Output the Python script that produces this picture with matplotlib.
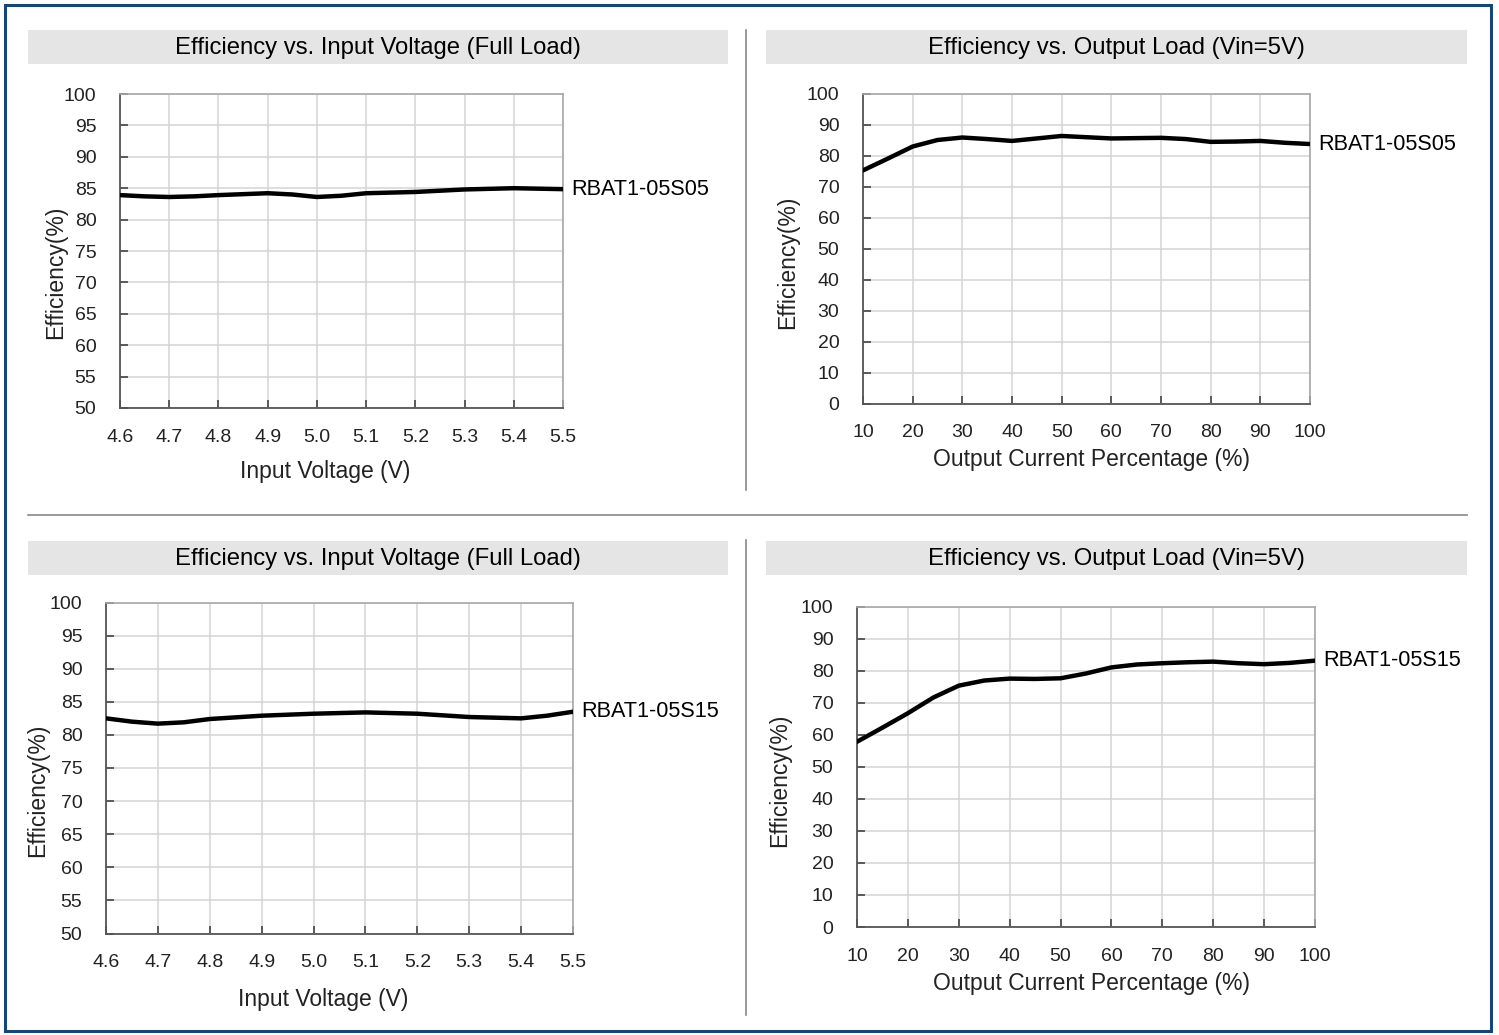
import matplotlib
matplotlib.use("Agg")
import matplotlib.pyplot as plt
from matplotlib.patches import Rectangle
from matplotlib.lines import Line2D

W, H = 1499, 1035

# top-left: efficiency vs input voltage, RBAT1-05S05
vin_05 = [4.6, 4.65, 4.7, 4.75, 4.8, 4.9, 4.95, 5.0, 5.05, 5.1, 5.2, 5.3, 5.4, 5.5]
eff_vin_05 = [83.9, 83.7, 83.6, 83.7, 83.9, 84.2, 84.0, 83.6, 83.8, 84.2, 84.4, 84.8, 85.0, 84.85]

# top-right: efficiency vs load, RBAT1-05S05
load_05 = [10, 15, 20, 25, 30, 35, 40, 45, 50, 55, 60, 65, 70, 75, 80, 85, 90, 95, 100]
eff_load_05 = [75.2, 79.0, 82.9, 85.0, 85.8, 85.3, 84.7, 85.5, 86.3, 85.9, 85.5, 85.6, 85.7, 85.3, 84.4,
               84.5, 84.7, 84.1, 83.7]

# bottom-left: efficiency vs input voltage, RBAT1-05S15
vin_15 = [4.6, 4.65, 4.7, 4.75, 4.8, 4.9, 5.0, 5.1, 5.2, 5.3, 5.4, 5.45, 5.5]
eff_vin_15 = [82.5, 82.0, 81.7, 81.9, 82.4, 82.9, 83.2, 83.4, 83.2, 82.7, 82.5, 82.9, 83.5]

# bottom-right: efficiency vs load, RBAT1-05S15
load_15 = [10, 15, 20, 25, 30, 35, 40, 45, 50, 55, 60, 65, 70, 75, 80, 85, 90, 95, 100]
eff_load_15 = [57.8, 62.2, 66.7, 71.6, 75.3, 76.9, 77.5, 77.4, 77.6, 79.1, 81.0, 81.9, 82.3, 82.6, 82.8,
               82.3, 82.0, 82.4, 83.1]

vin_ticks = [4.6, 4.7, 4.8, 4.9, 5.0, 5.1, 5.2, 5.3, 5.4, 5.5]
load_ticks = [10, 20, 30, 40, 50, 60, 70, 80, 90, 100]
eff_ticks_hi = list(range(50, 101, 5))
eff_ticks_full = list(range(0, 101, 10))

title_vin = "Efficiency vs. Input Voltage (Full Load)"
title_load = "Efficiency vs. Output Load (Vin=5V)"

FONT = "Liberation Sans"

fig = plt.figure(figsize=(W / 100, H / 100), dpi=100)


def px_rect(x0, x1, y0, y1):
    return [x0 / W, (H - y1) / H, (x1 - x0) / W, (y1 - y0) / H]


def panel(rect, x, y, xticks, yticks, xfmt, xlabel, name, xl_pos, yl_pos):
    ax = fig.add_axes(px_rect(*rect))
    ax.plot(x, y, color="black", lw=3.2, solid_capstyle="round", solid_joinstyle="round", zorder=3)
    ax.set_xlim(xticks[0], xticks[-1])
    ax.set_ylim(yticks[0], yticks[-1])
    ax.set_xticks(xticks)
    ax.set_yticks(yticks)
    ax.set_xticklabels([xfmt.format(v) for v in xticks])
    ax.grid(True, color="#d4d4d4", lw=1.1)
    ax.set_axisbelow(True)
    for s in ("top", "right"):
        ax.spines[s].set_color("#a8a8a8")
        ax.spines[s].set_linewidth(1.2)
    for s in ("left", "bottom"):
        ax.spines[s].set_color("#555555")
        ax.spines[s].set_linewidth(1.3)
    ax.tick_params(direction="in", length=6, width=1.2, color="#444444",
                   labelsize=14, labelcolor="#222222")
    ax.tick_params(axis="x", pad=15)
    ax.tick_params(axis="y", pad=17)
    for lab in ax.get_xticklabels() + ax.get_yticklabels():
        lab.set_fontfamily(FONT)
    ax.set_xlabel(xlabel, fontsize=16.5, fontfamily=FONT, color="#222222")
    ax.set_ylabel("Efficiency(%)", fontsize=16.5, fontfamily=FONT, color="#222222")
    ax.xaxis.set_label_coords(*xl_pos)
    ax.yaxis.set_label_coords(*yl_pos)
    ax.annotate(name, xy=(x[-1], y[-1]), xytext=(6, 0), textcoords="offset points",
                ha="left", va="center", fontsize=15.6, fontfamily=FONT, color="black",
                annotation_clip=False)
    return ax


panel((120, 563, 94, 408), vin_05, eff_vin_05, vin_ticks, eff_ticks_hi, "{:.1f}",
      "Input Voltage (V)", "RBAT1-05S05", (0.463, -0.166), (-0.12, 0.433))
panel((863, 1310, 93.5, 403.5), load_05, eff_load_05, load_ticks, eff_ticks_full, "{:d}",
      "Output Current Percentage (%)", "RBAT1-05S05", (0.512, -0.144), (-0.143, 0.456))
panel((106, 573, 602.5, 933.5), vin_15, eff_vin_15, vin_ticks, eff_ticks_hi, "{:.1f}",
      "Input Voltage (V)", "RBAT1-05S15", (0.465, -0.165), (-0.122, 0.434))
panel((857, 1315, 606.5, 927), load_15, eff_load_15, load_ticks, eff_ticks_full, "{:d}",
      "Output Current Percentage (%)", "RBAT1-05S15", (0.511, -0.141), (-0.144, 0.459))

# title bars
for (x0, x1, y0, y1, txt) in [(28, 728, 30, 64, title_vin), (766, 1467, 30, 64, title_load),
                              (28, 728, 541, 575, title_vin), (766, 1467, 541, 575, title_load)]:
    fig.patches.append(Rectangle((x0 / W, 1 - y1 / H), (x1 - x0) / W, (y1 - y0) / H,
                                 transform=fig.transFigure, facecolor="#e5e5e5",
                                 edgecolor="none", zorder=0))
    fig.text((x0 + x1) / 2 / W, 1 - (y0 + y1 + 2) / 2 / H, txt, ha="center", va="center",
             fontsize=17.2, fontfamily=FONT, color="black")

# separators
sep = "#888888"
fig.lines.append(Line2D([746 / W, 746 / W], [1 - 30 / H, 1 - 490 / H], transform=fig.transFigure,
                        color=sep, lw=1.2))
fig.lines.append(Line2D([746 / W, 746 / W], [1 - 540 / H, 1 - 1015 / H], transform=fig.transFigure,
                        color=sep, lw=1.2))
fig.lines.append(Line2D([28 / W, 1467 / W], [1 - 515 / H, 1 - 515 / H], transform=fig.transFigure,
                        color=sep, lw=1.2))

# outer border
fig.patches.append(Rectangle((5 / W, 1 - 1031 / H), 1486 / W, 1026 / H, transform=fig.transFigure,
                             facecolor="none", edgecolor="#0b4a80", lw=2.2, zorder=5))

fig.savefig("out.png", dpi=100)
